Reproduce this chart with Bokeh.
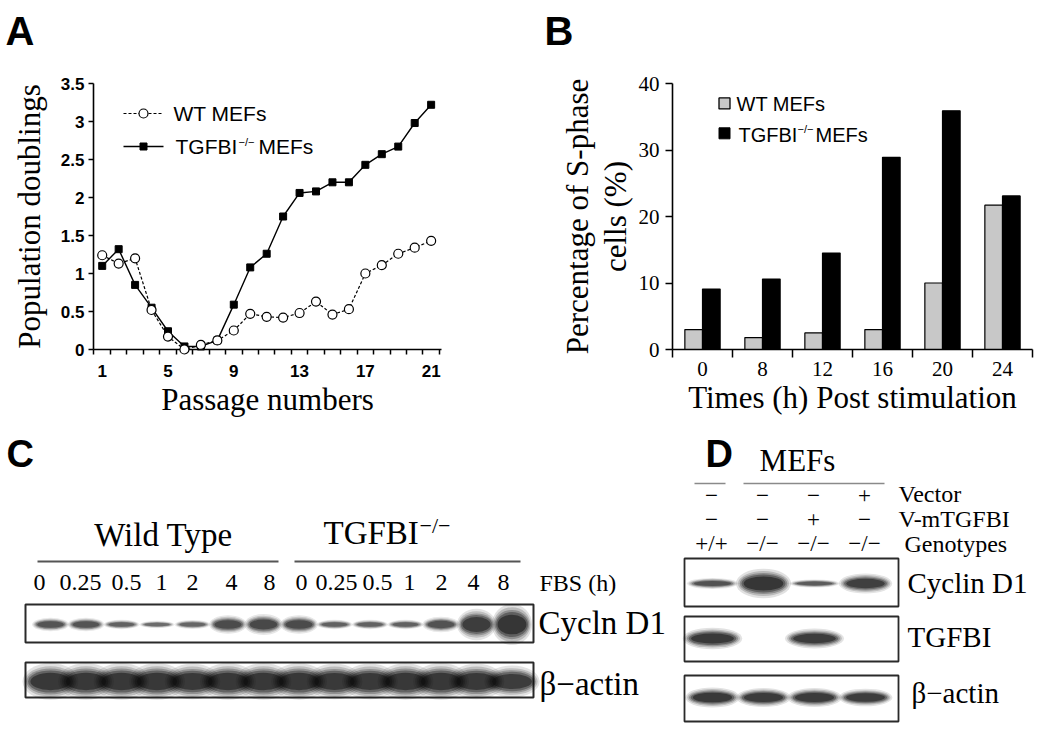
import math
from bokeh.plotting import figure
from bokeh.models import (Range1d, FixedTicker, Label, NumeralTickFormatter, ColumnDataSource,
                          LinearAxis)
from bokeh.layouts import column, row
from bokeh.core.properties import value
from bokeh.embed import file_html
from bokeh.resources import INLINE

SANS = "Liberation Sans"
SERIF = "Liberation Serif"

# ---------------- data ----------------
# Panel A: population doublings per passage
passages = list(range(1, 22))
wt_doublings = [1.24, 1.13, 1.20, 0.52, 0.17, 0.00, 0.06, 0.12, 0.25, 0.47, 0.43, 0.42,
                0.48, 0.63, 0.46, 0.53, 1.00, 1.11, 1.26, 1.34, 1.43]
ko_doublings = [1.10, 1.32, 0.85, 0.55, 0.24, 0.04, 0.04, 0.12, 0.59, 1.08, 1.26, 1.75,
                2.06, 2.08, 2.20, 2.20, 2.43, 2.57, 2.67, 2.98, 3.22]
a_xticks = [1, 5, 9, 13, 17, 21]
a_yticks = [0, 0.5, 1, 1.5, 2, 2.5, 3, 3.5]

# Panel B: % S-phase cells after stimulation
times = ["0", "8", "12", "16", "20", "24"]
wt_sphase = [3.0, 1.8, 2.5, 3.0, 10.0, 21.7]
ko_sphase = [9.1, 10.6, 14.5, 28.9, 35.9, 23.1]
b_yticks = [0, 10, 20, 30, 40]

# Panel C: blot (band intensity 0..1)
c_times = ["0", "0.25", "0.5", "1", "2", "4", "8"]
c_cyclin_wt = [0.62, 0.62, 0.5, 0.4, 0.48, 0.72, 0.76]
c_cyclin_ko = [0.72, 0.5, 0.5, 0.5, 0.66, 0.9, 1.0]
c_actin_wt = [0.97, 0.97, 0.97, 0.97, 0.96, 0.97, 0.97]
c_actin_ko = [0.97, 0.96, 0.96, 0.97, 0.97, 0.96, 0.92]

# Panel D: blot
d_vector = ["\u2212", "\u2212", "\u2212", "+"]
d_vmtgfbi = ["\u2212", "\u2212", "+", "\u2212"]
d_genotypes = ["+/+", "\u2212/\u2212", "\u2212/\u2212", "\u2212/\u2212"]
d_cyclin = [0.66, 1.0, 0.56, 0.86]
d_tgfbi = [0.95, 0.0, 0.92, 0.0]
d_actin = [0.95, 0.93, 0.93, 0.9]


def clean(p):
    p.outline_line_color = None
    p.xgrid.grid_line_color = None
    p.ygrid.grid_line_color = None
    p.background_fill_color = "white"
    p.border_fill_color = "white"


def lab(p, x, y, text, size, font=SERIF, align="left", baseline="middle", angle=0.0, style="normal"):
    p.add_layout(Label(x=x, y=y, text=text, text_font=font, text_font_size=size,
                       text_align=align, text_baseline=baseline, angle=angle,
                       text_color="black", text_font_style=style))


def style_axis(a, font, size, bold=False):
    a.axis_line_width = 1.6
    a.axis_line_color = "black"
    a.major_label_text_font = font
    a.major_label_text_font_size = size
    a.major_label_text_color = "black"
    if bold:
        a.major_label_text_font_style = "bold"
    a.axis_label_text_font = SERIF
    a.axis_label_text_font_size = "31px"
    a.axis_label_text_font_style = "normal"
    a.axis_label_text_color = "black"


TOTAL_W = 1042
HEAD_H = 58
ROW_H = 365
CD_H = 302

# ---------------- header with panel letters A / B ----------------
pH = figure(width=TOTAL_W, height=HEAD_H, x_range=Range1d(0, TOTAL_W), y_range=Range1d(HEAD_H, 0),
            output_backend="svg", toolbar_location=None, min_border=0,
            x_axis_type=None, y_axis_type=None)
clean(pH)
lab(pH, 5, 30, "A", "40px", font=SANS, style="bold")
lab(pH, 544, 30, "B", "40px", font=SANS, style="bold")

# ---------------- Panel A ----------------
A_W = 538
pA = figure(width=A_W, height=ROW_H, x_range=Range1d(0.47, 21.63), y_range=Range1d(0, 3.5),
            output_backend="svg", toolbar_location=None,
            min_border_left=93, min_border_right=97, min_border_top=83 - HEAD_H,
            min_border_bottom=ROW_H - (349 - HEAD_H))
clean(pA)
# reference-pixel -> data helpers (frame: x 93..441, y 83..349)
ax = lambda rx: 0.47 + (rx - 93) * (21.16 / 348)
ay = lambda ry: (349 - ry) * (3.5 / 266)

srcA = ColumnDataSource(dict(p=passages, wt=wt_doublings, ko=ko_doublings))
pA.line('p', 'ko', source=srcA, line_color="black", line_width=1.4)
pA.line('p', 'wt', source=srcA, line_color="black", line_width=1.2, line_dash="3 2")
r = pA.scatter('p', 'ko', source=srcA, marker="square", size=7, fill_color="black", line_color="black")
r.level = "overlay"
r = pA.scatter('p', 'wt', source=srcA, marker="circle", size=9, fill_color="white",
               line_color="black", line_width=1.2)
r.level = "overlay"

xa = pA.xaxis[0]
xa.ticker = FixedTicker(ticks=a_xticks, minor_ticks=[i + 0.5 for i in range(0, 22)])
xa.major_tick_out = 0
xa.major_tick_in = 0
xa.major_tick_line_color = None
xa.minor_tick_out = 5
xa.minor_tick_in = 0
xa.minor_tick_line_color = "black"
xa.minor_tick_line_width = 1.5
style_axis(xa, SANS, "17px", bold=True)
xa.major_label_standoff = 10
xa.axis_label = "Passage numbers"
xa.axis_label_standoff = 2

ya = pA.yaxis[0]
ya.ticker = FixedTicker(ticks=a_yticks)
ya.formatter = NumeralTickFormatter(format="0.[0]")
ya.minor_tick_line_color = None
ya.major_tick_out = 5
ya.major_tick_in = 0
ya.major_tick_line_width = 1.5
ya.major_tick_line_color = "black"
style_axis(ya, SANS, "17px", bold=True)
ya.major_label_standoff = 4
ya.axis_label = "Population doublings"
ya.axis_label_standoff = 11

# legend A
pA.line([ax(123), ax(163)], [ay(113), ay(113)], line_color="black", line_width=1.2, line_dash="3 2")
pA.scatter([ax(143)], [ay(113)], marker="circle", size=9, fill_color="white", line_color="black",
           line_width=1.2)
pA.line([ax(123), ax(163)], [ay(146), ay(146)], line_color="black", line_width=1.4)
pA.scatter([ax(143)], [ay(146)], marker="square", size=7, fill_color="black", line_color="black")
lab(pA, ax(173), ay(113), "WT MEFs", "21px", font=SANS)
lab(pA, ax(175), ay(146), "TGFBI", "21px", font=SANS)
lab(pA, ax(238), ay(141), "\u2212/\u2212", "11px", font=SANS)
lab(pA, ax(258), ay(146), "MEFs", "21px", font=SANS)

# ---------------- Panel B ----------------
B_W = TOTAL_W - A_W
pB = figure(width=B_W, height=ROW_H, x_range=Range1d(0, len(times)), y_range=Range1d(0, 40),
            output_backend="svg", toolbar_location=None,
            min_border_left=672 - A_W, min_border_right=TOTAL_W - 1032, min_border_top=83 - HEAD_H,
            min_border_bottom=ROW_H - (350 - HEAD_H))
clean(pB)
# frame in reference pixels: x 672..1032, y 83..350
bx = lambda rx: (rx - 672) / 60.0
by = lambda ry: (350 - ry) * 40.0 / 267

centers = [i + 0.5 for i in range(len(times))]
srcB = ColumnDataSource(dict(xw=[c - 0.147 for c in centers], xk=[c + 0.147 for c in centers],
                             wt=wt_sphase, ko=ko_sphase))
pB.vbar(x='xw', top='wt', width=0.294, source=srcB, fill_color="#c8c8c8", line_color="black",
        line_width=1.2)
pB.vbar(x='xk', top='ko', width=0.294, source=srcB, fill_color="black", line_color="black",
        line_width=1.2)

xb = pB.xaxis[0]
xb.ticker = FixedTicker(ticks=centers, minor_ticks=list(range(len(times) + 1)))
xb.major_label_overrides = {c: t for c, t in zip(centers, times)}
xb.major_tick_out = 0
xb.major_tick_in = 0
xb.major_tick_line_color = None
xb.minor_tick_out = 8
xb.minor_tick_in = 0
xb.minor_tick_line_color = "black"
xb.minor_tick_line_width = 1.5
style_axis(xb, SERIF, "21px")
xb.major_label_standoff = 4
xb.axis_label = "Times (h) Post stimulation"
xb.axis_label_standoff = 1

yb = pB.yaxis[0]
yb.ticker = FixedTicker(ticks=b_yticks)
yb.minor_tick_line_color = None
yb.major_tick_out = 7
yb.major_tick_in = 0
yb.major_tick_line_width = 1.5
yb.major_tick_line_color = "black"
style_axis(yb, SERIF, "21px")
yb.major_label_standoff = 6
yb.axis_label = "cells (%)"
yb.axis_label_standoff = 3

yb2 = LinearAxis(ticker=FixedTicker(ticks=[]))
yb2.axis_line_color = None
yb2.major_tick_line_color = None
yb2.minor_tick_line_color = None
yb2.major_tick_out = 0
yb2.minor_tick_out = 0
yb2.major_label_standoff = 0
yb2.major_label_text_font_size = "0px"
yb2.axis_label = "Percentage of S-phase"
yb2.axis_label_text_font = SERIF
yb2.axis_label_text_font_size = "31px"
yb2.axis_label_text_font_style = "normal"
yb2.axis_label_text_color = "black"
yb2.axis_label_standoff = 0
pB.add_layout(yb2, "left")

# legend B
pB.scatter([bx(724)], [by(103)], marker="square", size=11, fill_color="#c8c8c8",
           line_color="black", line_width=1.3)
pB.scatter([bx(724)], [by(133)], marker="square", size=11, fill_color="black", line_color="black")
lab(pB, bx(736), by(104), "WT MEFs", "20px", font=SANS)
lab(pB, bx(738), by(135), "TGFBI", "20px", font=SANS)
lab(pB, bx(797), by(129), "\u2212/\u2212", "11px", font=SANS)
lab(pB, bx(815), by(135), "MEFs", "20px", font=SANS)

# ---------------- Panels C & D (blots) ----------------
pCD = figure(width=TOTAL_W, height=CD_H, x_range=Range1d(0, TOTAL_W), y_range=Range1d(725, 423),
             output_backend="svg", toolbar_location=None, min_border=0,
             x_axis_type=None, y_axis_type=None)
clean(pCD)

LAYERS = [(1.25, 1.65, 0.12), (1.16, 1.38, 0.18), (1.08, 1.17, 0.25), (1.0, 1.0, 0.35),
          (0.9, 0.78, 0.5)]


def bands(xs, y, intens, wmax, hmax):
    pts = [(x, i) for x, i in zip(xs, intens) if i > 0]
    if not pts:
        return
    for ws, hs, al in LAYERS:
        pCD.ellipse(x=[x for x, _ in pts], y=[y] * len(pts),
                    width=[wmax * (0.8 + 0.2 * i) * ws for _, i in pts],
                    height=[hmax * (0.12 + 0.88 * i ** 3) * hs for _, i in pts],
                    fill_color="#0c0c0c", fill_alpha=[min(1.0, al * (0.3 + 0.7 * i)) for _, i in pts],
                    line_color=None)


# Panel C
lab(pCD, 6, 453, "C", "38px", font=SANS, style="bold")
lab(pCD, 163, 534, "Wild Type", "33px", align="center")
lab(pCD, 323, 532, "TGFBI", "33px")
lab(pCD, 419, 525, "\u2212/\u2212", "22px")
pCD.segment(x0=[37, 294], x1=[278, 520], y0=[561, 561], y1=[561, 561], line_color="#555555",
            line_width=2.2)
c_label_x = [39, 80, 126, 161, 192, 231, 269, 301, 336, 377, 409, 441, 473, 503]
pCD.text(x=c_label_x, y=[582] * len(c_label_x), text=c_times + c_times,
         text_font=value(SERIF), text_font_size=value("24px"), text_align="center",
         text_baseline="middle", text_color="black")
lab(pCD, 539, 582, "FBS (h)", "24px")
pCD.quad(left=[25, 25], right=[533, 533], top=[604, 662], bottom=[642, 697], fill_color="white",
         line_color="#2a2a2a", line_width=2)
c_lanes = [50 + 35.5 * i for i in range(14)]
bands(c_lanes, 624, c_cyclin_wt + c_cyclin_ko, 32, 25)
bands(c_lanes, 681, c_actin_wt + c_actin_ko, 45, 24)
lab(pCD, 538, 622, "Cycln D1", "33px")
lab(pCD, 539, 683, "\u03b2\u2212actin", "33px")

# Panel D
lab(pCD, 705, 453, "D", "38px", font=SANS, style="bold")
lab(pCD, 797, 460, "MEFs", "31px", align="center")
pCD.segment(x0=[694, 743], x1=[725, 884], y0=[483, 483], y1=[483, 483], line_color="#8a8a8a",
            line_width=1.6)
d_lanes = [712 + 51 * i for i in range(4)]
for vals, yc in ((d_vector, 495), (d_vmtgfbi, 519), (d_genotypes, 543)):
    pCD.text(x=[x - 1 for x in d_lanes], y=[yc] * 4, text=vals, text_font=value(SERIF),
             text_font_size=value("23px"), text_align="center", text_baseline="middle",
             text_color="black")
lab(pCD, 898, 493, "Vector", "24px")
lab(pCD, 898, 518, "V-mTGFBI", "24px")
lab(pCD, 904, 543, "Genotypes", "24px")
pCD.quad(left=[684] * 3, right=[898] * 3, top=[558, 616, 675], bottom=[606, 661, 721],
         fill_color="white", line_color="#2a2a2a", line_width=1.8)
bands(d_lanes, 583, d_cyclin, 44, 18)
bands(d_lanes, 638, d_tgfbi, 48, 15)
bands(d_lanes, 697, d_actin, 44, 14)
lab(pCD, 907, 582, "Cyclin D1", "29px")
lab(pCD, 907, 636, "TGFBI", "29px")
lab(pCD, 911, 692, "\u03b2\u2212actin", "29px")

layout = column(pH, row(pA, pB), pCD)
open("out.html", "w").write(file_html(layout, INLINE))
